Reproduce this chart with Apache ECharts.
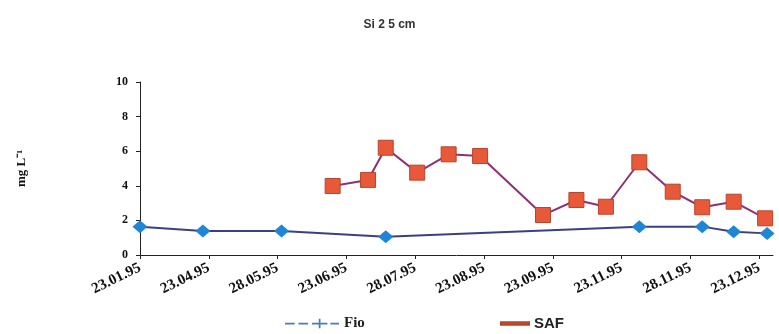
<!DOCTYPE html>
<html>
<head>
<meta charset="utf-8">
<script src="https://cdn.jsdelivr.net/npm/echarts@6/dist/echarts.min.js"></script>
<style>html,body{margin:0;padding:0;background:#fff}#c{width:779px;height:334px}</style>
</head>
<body>
<div id="c"></div>
<script>
// Tick labels (sampling dates), placed every 35 days from the first date
var tickLabels = ['23.01.95','23.04.95','28.05.95','23.06.95','28.07.95','23.08.95','23.09.95','23.11.95','28.11.95','23.12.95'];
var tickDays = [0,35,70,105,140,175,210,245,280,315];
// Fio series: day offsets and values (mg L-1)
var fioDays = [0,32,72,125,254,286,302,319];
var fioValues = [1.64,1.39,1.39,1.06,1.64,1.64,1.35,1.25];
// SAF series
var safDays = [98,116,125,141,157,173,205,222,237,254,271,286,302,318];
var safValues = [3.99,4.34,6.20,4.76,5.82,5.72,2.31,3.18,2.79,5.36,3.66,2.76,3.08,2.12];

function pairs(xs, ys){ return xs.map(function(x,i){ return [x, ys[i]]; }); }

var chart = echarts.init(document.getElementById('c'), null, {renderer:'canvas'});
var serif = '"Liberation Serif", "Times New Roman", serif';
var sans = '"Liberation Sans", Arial, sans-serif';
chart.setOption({
  animation:false,
  backgroundColor:'#fff',
  title:{
    text:'Si 2 5 cm', left:'center', top:14,
    textStyle:{fontFamily:sans, fontSize:12, fontWeight:'bold', color:'#333'}
  },
  grid:{left:140, right:6, top:82, bottom:79},
  legend:[{
    left:280, top:311, itemWidth:54, itemHeight:10, itemGap:2,
    textStyle:{fontFamily:serif, fontSize:15, fontWeight:'bold', color:'#222'},
    data:[{name:'Fio', icon:'path://M0,4.3h10v1.8H0z M14,4.3h10v1.8h-10z M28,4.3h16v1.8h-16z M35,0h1.8v10h-1.8z M47,4.3h9v1.8h-9z',
      itemStyle:{color:'#4a7cc0'}}]
  },{
    left:495, top:311, itemWidth:28, itemHeight:10, itemGap:3,
    textStyle:{fontFamily:sans, fontSize:15, fontWeight:'bold', color:'#222'},
    data:[{name:'SAF', icon:'path://M0,3.6h30v2.8H0z', itemStyle:{color:'#c0504d'}}]
  }],
  xAxis:{
    type:'value', min:0, max:322,
    axisLine:{show:true, lineStyle:{color:'#222', width:1}},
    axisTick:{show:true, length:4, inside:false, customValues:tickDays, lineStyle:{color:'#222'}},
    splitLine:{show:false},
    axisLabel:{
      customValues:tickDays, rotate:26, margin:12,
      fontFamily:serif, fontSize:15, fontWeight:'bold', color:'#111',
      formatter:function(v){ var i = tickDays.indexOf(v); return i>=0 ? tickLabels[i] : ''; }
    }
  },
  yAxis:{
    type:'value', min:0, max:10, interval:2,
    name:'mg L\u207B\u00B9', nameLocation:'middle', nameGap:112, nameRotate:90,
    nameTextStyle:{fontFamily:serif, fontSize:13, fontWeight:'bold', color:'#111'},
    axisLine:{show:true, lineStyle:{color:'#222', width:1}},
    axisTick:{show:true, length:4, lineStyle:{color:'#222'}},
    splitLine:{show:false},
    axisLabel:{fontFamily:serif, fontSize:12, fontWeight:'bold', color:'#111', margin:12}
  },
  series:[{
    name:'Fio', type:'line', data:pairs(fioDays, fioValues),
    symbol:'diamond', symbolSize:[15,13],
    lineStyle:{color:'#3b3f86', width:2},
    itemStyle:{color:'#1f86d6', borderColor:'#1f86d6', borderWidth:0}
  },{
    name:'SAF', type:'line', data:pairs(safDays, safValues),
    symbol:'rect', symbolSize:15,
    lineStyle:{color:'#8e2f78', width:2},
    itemStyle:{color:'#e8593a', borderColor:'#b8442c', borderWidth:1}
  }]
});
</script>
</body>
</html>
